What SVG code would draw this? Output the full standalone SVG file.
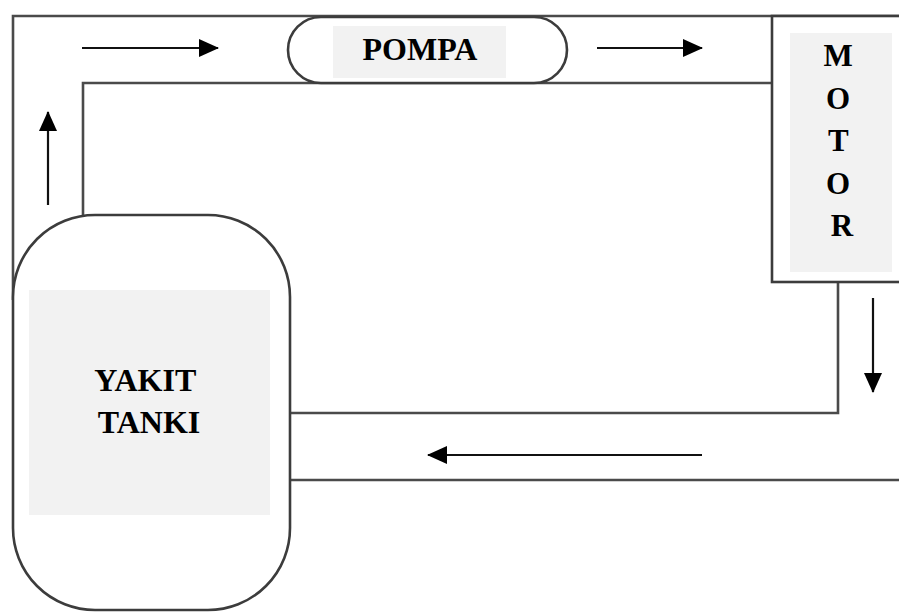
<svg xmlns="http://www.w3.org/2000/svg" width="899" height="612" viewBox="0 0 899 612">
  <style>
    .pipe { fill: none; stroke: #4a4a4a; stroke-width: 2.6; }
    .outline { fill: #ffffff; stroke: #3c3c3c; stroke-width: 2.6; }
    .panel { fill: #f2f2f2; stroke: none; }
    .flow { fill: none; stroke: #111; stroke-width: 2.2; marker-end: url(#head); }
    .label { font-family: "Liberation Serif", "Times New Roman", serif; font-weight: bold; fill: #000; text-anchor: middle; }
  </style>
  <defs>
    <marker id="head" viewBox="0 0 20 18" refX="19" refY="9" markerWidth="20" markerHeight="18" markerUnits="userSpaceOnUse" orient="auto">
      <path d="M0,0 L20,9 L0,18 Z" fill="#000"/>
    </marker>
  </defs>

  <rect width="899" height="612" fill="#ffffff"/>

  <!-- fuel lines -->
  <g id="connectors">
    <path class="pipe" d="M13,300 V16 H899"/>
    <path class="pipe" d="M83,215 V83 H772"/>
    <path class="pipe" d="M290,413 H838 V282"/>
    <path class="pipe" d="M290,480 H899"/>
    <line class="flow" x1="82" y1="48" x2="218" y2="48"/>
    <line class="flow" x1="597" y1="48" x2="702" y2="48"/>
    <line class="flow" x1="48" y1="205" x2="48" y2="112"/>
    <line class="flow" x1="873" y1="298" x2="873" y2="392"/>
    <line class="flow" x1="702" y1="455" x2="428" y2="455"/>
  </g>

  <!-- pump -->
  <g id="pompa">
    <rect class="outline" x="288" y="17" width="279" height="66" rx="33" ry="33"/>
    <rect class="panel" x="333" y="26" width="173" height="52"/>
    <text class="label" x="420" y="60" font-size="32">POMPA</text>
  </g>

  <!-- engine -->
  <g id="motor">
    <rect class="outline" x="772" y="16" width="140" height="266"/>
    <rect class="panel" x="790" y="33" width="102" height="239"/>
    <text class="label" font-size="31">
      <tspan x="842" y="66">M</tspan>
      <tspan x="842" y="109">O</tspan>
      <tspan x="842" y="151">T</tspan>
      <tspan x="842" y="194">O</tspan>
      <tspan x="842" y="236">R</tspan>
    </text>
  </g>

  <!-- fuel tank -->
  <g id="yakit-tanki">
    <rect class="outline" x="13" y="215" width="277" height="395" rx="82" ry="82"/>
    <rect class="panel" x="29" y="290" width="241" height="225"/>
    <text class="label" font-size="32">
      <tspan x="149" y="391">YAKIT</tspan>
      <tspan x="149" y="433">TANKI</tspan>
    </text>
  </g>
</svg>
